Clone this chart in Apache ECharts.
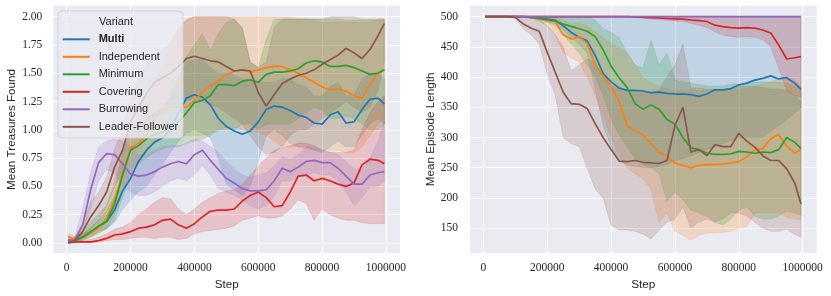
<!DOCTYPE html>
<html><head><meta charset="utf-8">
<script src="https://cdn.jsdelivr.net/npm/echarts@6/dist/echarts.min.js"></script>
<style>html,body{margin:0;padding:0;background:#fff}#c{width:831px;height:296px}</style>
</head><body><div id="c"></div>
<script>
// ---------- data ----------
const steps = [5000,25000,50000,75000,100000,125000,150000,175000,200000,225000,250000,275000,300000,325000,350000,375000,400000,425000,450000,475000,500000,525000,550000,575000,600000,625000,650000,675000,700000,725000,750000,775000,800000,825000,850000,875000,900000,925000,950000,975000,995000];
const variants = ['Multi','Independent','Minimum','Covering','Burrowing','Leader-Follower'];
const xTickValues = [0,200000,400000,600000,800000,1000000];
const treasureTickValues = [0,0.25,0.5,0.75,1.0,1.25,1.5,1.75,2.0];
const lengthTickValues = [150,200,250,300,350,400,450,500];

// Mean Treasures Found
const tMultiMean = [0.01,0.02,0.05,0.09,0.14,0.19,0.29,0.46,0.57,0.72,0.82,0.89,0.93,1.00,1.15,1.28,1.31,1.29,1.22,1.10,1.03,0.99,0.96,0.99,1.07,1.18,1.21,1.20,1.17,1.13,1.11,1.06,1.05,1.13,1.16,1.06,1.07,1.18,1.27,1.28,1.23];
const tMultiLo = [0.0,0.0,0.03,0.06,0.10,0.13,0.18,0.30,0.38,0.45,0.50,0.60,0.70,0.80,0.90,0.97,1.00,0.97,0.93,0.75,0.52,0.47,0.42,0.50,0.72,0.95,1.00,0.95,0.88,0.85,0.85,0.82,0.80,0.85,0.90,0.85,0.85,0.95,1.05,1.10,1.05];
const tMultiHi = [0.03,0.04,0.08,0.13,0.20,0.28,0.42,0.60,0.76,0.95,1.10,1.15,1.20,1.30,1.45,1.60,1.62,1.62,1.55,1.50,1.50,1.48,1.45,1.45,1.42,1.42,1.42,1.45,1.45,1.40,1.38,1.30,1.30,1.38,1.42,1.30,1.30,1.45,1.50,1.50,1.45];
const tIndepMean = [0.06,0.03,0.05,0.09,0.13,0.22,0.38,0.62,0.84,0.88,0.96,1.10,1.18,1.20,1.20,1.20,1.26,1.33,1.39,1.43,1.48,1.52,1.53,1.51,1.53,1.55,1.56,1.56,1.53,1.50,1.46,1.42,1.38,1.35,1.36,1.34,1.30,1.28,1.40,1.50,1.53];
const tIndepLo = [0.02,0.01,0.02,0.05,0.08,0.13,0.25,0.45,0.65,0.72,0.80,0.88,0.92,0.95,0.95,0.95,0.95,0.95,0.97,1.00,1.00,1.02,1.00,0.98,0.98,0.95,0.90,0.85,0.85,0.85,0.83,0.82,0.82,0.82,0.82,0.80,0.80,0.85,0.95,1.05,1.10];
const tIndepHi = [0.09,0.06,0.08,0.14,0.20,0.33,0.55,0.80,1.00,1.10,1.25,1.40,1.55,1.75,1.90,1.98,2.00,2.00,2.00,2.00,2.00,2.00,2.00,2.00,2.00,2.00,2.00,2.00,2.00,1.98,1.98,1.97,1.95,1.95,1.95,1.95,1.95,1.95,1.95,1.98,1.98];
const tMinMean = [0.01,0.02,0.05,0.10,0.15,0.19,0.34,0.60,0.82,0.86,0.92,0.96,0.98,1.02,1.07,1.15,1.24,1.26,1.30,1.40,1.40,1.39,1.43,1.44,1.42,1.49,1.51,1.51,1.52,1.54,1.59,1.61,1.60,1.56,1.56,1.57,1.55,1.52,1.49,1.50,1.53];
const tMinLo = [0.00,0.00,0.02,0.05,0.09,0.12,0.20,0.40,0.60,0.70,0.75,0.80,0.83,0.85,0.85,0.88,0.90,0.92,0.95,1.00,1.02,1.00,1.05,1.05,1.00,1.05,1.05,1.05,1.05,1.10,1.15,1.20,1.18,1.10,1.10,1.12,1.10,1.05,1.00,1.00,1.05];
const tMinHi = [0.03,0.05,0.10,0.18,0.26,0.33,0.50,0.80,1.00,1.05,1.10,1.15,1.20,1.30,1.45,1.65,1.75,1.85,1.70,1.85,1.95,1.98,1.90,1.60,1.55,1.80,1.98,1.98,1.98,1.98,1.98,1.98,1.98,1.98,1.98,1.97,1.97,1.97,1.97,1.97,1.97];
const tCoverMean = [0.00,0.01,0.01,0.01,0.02,0.04,0.07,0.08,0.10,0.13,0.14,0.16,0.20,0.21,0.16,0.13,0.17,0.23,0.28,0.29,0.29,0.30,0.37,0.42,0.45,0.40,0.32,0.33,0.45,0.59,0.60,0.55,0.57,0.55,0.52,0.50,0.53,0.69,0.74,0.73,0.70];
const tCoverLo = [0.00,0.00,0.00,0.00,0.01,0.02,0.03,0.03,0.04,0.05,0.05,0.04,0.05,0.05,0.03,0.04,0.08,0.10,0.11,0.12,0.13,0.15,0.20,0.22,0.24,0.22,0.22,0.24,0.30,0.38,0.35,0.20,0.30,0.25,0.22,0.20,0.20,0.18,0.17,0.17,0.17];
const tCoverHi = [0.01,0.02,0.02,0.03,0.05,0.08,0.12,0.14,0.18,0.25,0.30,0.36,0.40,0.39,0.30,0.25,0.30,0.36,0.40,0.44,0.46,0.47,0.52,0.60,0.68,0.75,0.82,0.84,0.86,0.88,0.88,0.86,0.82,0.80,0.80,0.80,0.82,1.00,1.15,1.25,1.30];
const tBurrowMean = [0.03,0.02,0.16,0.47,0.71,0.79,0.78,0.70,0.61,0.59,0.60,0.63,0.67,0.70,0.72,0.70,0.78,0.82,0.73,0.65,0.57,0.53,0.48,0.46,0.46,0.47,0.55,0.66,0.63,0.67,0.72,0.73,0.71,0.71,0.66,0.59,0.52,0.52,0.60,0.62,0.63];
const tBurrowLo = [0.01,0.00,0.08,0.30,0.55,0.65,0.62,0.50,0.45,0.42,0.42,0.45,0.50,0.55,0.57,0.55,0.60,0.68,0.60,0.48,0.45,0.42,0.38,0.33,0.30,0.33,0.42,0.55,0.55,0.58,0.60,0.62,0.60,0.60,0.55,0.45,0.33,0.40,0.50,0.50,0.55];
const tBurrowHi = [0.06,0.05,0.30,0.62,0.85,0.90,0.92,0.90,0.85,0.78,0.78,0.82,0.85,0.86,0.86,0.88,0.92,0.90,0.85,0.80,0.72,0.65,0.60,0.58,0.60,0.62,0.68,0.76,0.74,0.78,0.85,0.85,0.82,0.80,0.78,0.72,0.65,0.65,0.75,0.90,1.08];
const tLeaderMean = [0.00,0.02,0.10,0.23,0.33,0.45,0.67,0.82,1.07,1.20,1.32,1.42,1.46,1.50,1.56,1.63,1.65,1.63,1.61,1.60,1.56,1.52,1.53,1.52,1.33,1.21,1.31,1.41,1.45,1.48,1.50,1.53,1.58,1.62,1.66,1.72,1.68,1.63,1.71,1.83,1.94];
const tLeaderLo = [0.00,0.00,0.05,0.12,0.20,0.33,0.50,0.62,0.80,0.95,1.05,1.12,1.15,1.20,1.22,1.25,1.28,1.25,1.22,1.20,1.15,1.10,1.05,0.95,0.85,0.78,0.80,0.85,0.95,1.00,1.00,1.05,1.10,1.15,1.20,1.25,1.20,1.15,1.20,1.35,1.60];
const tLeaderHi = [0.02,0.05,0.17,0.36,0.45,0.58,0.83,1.00,1.28,1.45,1.58,1.65,1.70,1.78,1.88,1.97,2.00,2.00,2.00,2.00,2.00,1.98,1.90,1.60,1.55,1.60,1.90,1.98,1.98,1.98,1.98,1.98,1.98,2.00,2.00,2.00,2.00,1.98,1.98,1.98,1.98];

// Mean Episode Length
const lMultiMean = [500,500,500,500,500,499.5,499,498,496,494,485,474,466,460,436,406,392,382,378,378,377,374,375,373,372,372,371,368,372,379,379,381,387,390,395,398,402,397,399,390,380];
const lMultiLo = [500,500,500,500,500,499,497,495,492,488,478,465,455,440,380,320,285,262,255,252,250,250,252,255,262,265,270,275,280,285,290,295,300,300,300,300,310,320,330,340,350];
const lMultiHi = [500,500,500,500,500,500,500,500,500,500,500,500,500,500,500,500,500,500,500,500,500,500,500,500,500,500,500,500,500,500,500,500,500,500,500,500,500,500,500,500,500];
const lIndepMean = [500,500,500,500,500,500,499,497,494,492,470,463,467,456,421,402,385,360,320,312,304,290,276,269,258,254,250,254,255,255,256,258,260,268,280,282,298,305,286,274,280];
const lIndepLo = [500,500,500,500,500,500,499,492,485,470,440,432,425,400,370,335,300,270,250,240,232,215,160,175,145,138,130,138,142,142,143,145,150,152,175,175,175,175,168,165,164];
const lIndepHi = [500,500,500,500,500,500,500,500,500,500,495,488,490,485,475,465,455,450,440,420,400,390,385,380,378,378,378,378,378,378,378,380,380,382,385,388,392,398,400,395,385];
const lMinMean = [500,500,500,500,500,500,499,497,495,493,488,484,480,476,467,445,418,399,383,356,347,354,347,330,322,300,283,280,274,272,272,273,277,276,274,276,275,280,300,292,282];
const lMinLo = [500,500,500,500,500,500,500,495,490,485,470,455,440,420,400,370,330,305,285,265,255,250,240,195,210,197,180,175,170,160,155,165,180,185,170,165,165,170,178,175,172];
const lMinHi = [500,500,500,500,500,500,500,500,500,500,500,500,500,500,495,480,474,465,440,420,415,462,420,440,395,392,390,388,385,385,385,388,388,390,392,392,392,392,390,385,380];
const lCoverMean = [500,500,500,500,500,500,500,500,500,500,500,500,500,500,500,500,500,500,500,499.5,499,498.5,498,497,496.5,496,494.5,493.5,492,486,483.5,482,481,482,481,478,473,453,430,432,434];
const lCoverLo = [500,500,500,500,500,500,500,500,500,500,500,500,500,500,500,500,500,500,500,499,498,496,495,494,493,492,489,486,482,475,470,467,466,467,466,462,450,415,378,370,366];
const lCoverHi = [500,500,500,500,500,500,500,500,500,500,500,500,500,500,500,500,500,500,500,500,500,500,500,500,500,500,500,500,500,500,500,500,500,500,500,500,500,500,500,500,500];
const lBurrowMean = [500,500,500,500,500,500,500,500,500,500,500,500,500,500,500,500,500,500,500,500,500,500,500,500,500,500,500,500,500,500,500,500,500,500,500,500,500,500,500,500,500];
const lBurrowLo = lBurrowMean;
const lBurrowHi = lBurrowMean;
const lLeaderMean = [500,500,500,500,499,488,481,476,441,408,375,356,355,348,323,300,280,261,260,262,259,258,257,262,320,350,276,280,270,288,285,285,307,294,284,270,262,262,248,225,190];
const lLeaderLo = [500,500,500,500,497,480,470,455,405,370,300,290,285,250,215,200,155,147,147,145,140,132,147,160,165,185,150,160,165,160,165,175,175,170,160,150,145,145,148,140,135];
const lLeaderHi = [500,500,500,500,500,500,500,495,485,470,450,410,420,430,425,400,385,380,378,378,376,376,378,400,420,455,382,382,380,380,380,380,385,385,385,383,380,380,378,370,360];

// ---------- styling ----------
const colors = ['#1f77b4','#ff7f0e','#2ca02c','#d62728','#9467bd','#8c564b'];
const textColor = '#262626';
const serif = 'Liberation Serif';
const sans = 'Liberation Sans';

function rgba(hex, a) {
  const n = parseInt(hex.slice(1), 16);
  return 'rgba(' + ((n >> 16) & 255) + ',' + ((n >> 8) & 255) + ',' + (n & 255) + ',' + a + ')';
}

const panels = [
  { mean: [tMultiMean,tIndepMean,tMinMean,tCoverMean,tBurrowMean,tLeaderMean],
    lo:   [tMultiLo,tIndepLo,tMinLo,tCoverLo,tBurrowLo,tLeaderLo],
    hi:   [tMultiHi,tIndepHi,tMinHi,tCoverHi,tBurrowHi,tLeaderHi] },
  { mean: [lMultiMean,lIndepMean,lMinMean,lCoverMean,lBurrowMean,lLeaderMean],
    lo:   [lMultiLo,lIndepLo,lMinLo,lCoverLo,lBurrowLo,lLeaderLo],
    hi:   [lMultiHi,lIndepHi,lMinHi,lCoverHi,lBurrowHi,lLeaderHi] }
];

function bandRenderer(lo, hi, color) {
  return function (params, api) {
    if (params.dataIndex !== 0) return null;
    const pts = [];
    for (let i = 0; i < steps.length; i++) pts.push(api.coord([steps[i], lo[i]]));
    for (let i = steps.length - 1; i >= 0; i--) pts.push(api.coord([steps[i], hi[i]]));
    return {
      type: 'polygon', shape: { points: pts },
      style: { fill: rgba(color, 0.2), stroke: rgba(color, 0.22), lineWidth: 0.7 }
    };
  };
}

const series = [];
panels.forEach((p, g) => {
  variants.forEach((name, k) => {
    const c = colors[k];
    series.push({
      type: 'custom', name: name + ' band ' + g, coordinateSystem: 'cartesian2d',
      xAxisIndex: g, yAxisIndex: g, silent: true, animation: false,
      renderItem: bandRenderer(p.lo[k], p.hi[k], c),
      encode: { x: 0, y: [1, 2] },
      data: steps.map((s, i) => [s, p.lo[k][i], p.hi[k][i]])
    });
    series.push({
      type: 'line', name: name, xAxisIndex: g, yAxisIndex: g,
      symbol: 'none', silent: true, animation: false,
      lineStyle: { width: 1.7, color: c }, itemStyle: { color: c },
      data: steps.map((s, i) => [s, p.mean[k][i]])
    });
  });
});

function xAxisCfg(g) {
  return {
    type: 'value', gridIndex: g, min: -42000, max: 1044000,
    axisLine: { show: false },
    axisTick: { show: false, customValues: xTickValues },
    axisLabel: { customValues: xTickValues, fontFamily: serif, fontSize: 11.5, color: textColor, margin: 9,
                 formatter: v => String(v) },
    splitLine: { show: true, lineStyle: { color: '#ffffff', width: 1.1 } },
    name: 'Step', nameLocation: 'middle', nameGap: 23,
    nameTextStyle: { fontFamily: sans, fontSize: 11.7, color: textColor }
  };
}

const option = {
  backgroundColor: '#ffffff',
  animation: false,
  grid: [
    { left: 53.3, top: 5.7, width: 346.7, height: 247.6, show: true, backgroundColor: '#EAEAF2', borderWidth: 0 },
    { left: 470, top: 5.7, width: 346.7, height: 247.6, show: true, backgroundColor: '#EAEAF2', borderWidth: 0 }
  ],
  xAxis: [xAxisCfg(0), xAxisCfg(1)],
  yAxis: [
    { type: 'value', gridIndex: 0, min: -0.09, max: 2.097,
      axisLine: { show: false },
      axisTick: { show: false, customValues: treasureTickValues },
      axisLabel: { customValues: treasureTickValues, fontFamily: serif, fontSize: 11.5, color: textColor, margin: 11,
                   formatter: v => v.toFixed(2) },
      splitLine: { show: true, lineStyle: { color: '#ffffff', width: 1.1 } },
      name: 'Mean Treasures Found', nameLocation: 'middle', nameGap: 36,
      nameTextStyle: { fontFamily: sans, fontSize: 11.7, color: textColor } },
    { type: 'value', gridIndex: 1, min: 108.7, max: 518.2,
      axisLine: { show: false },
      axisTick: { show: false, customValues: lengthTickValues },
      axisLabel: { customValues: lengthTickValues, fontFamily: serif, fontSize: 11.5, color: textColor, margin: 12,
                   formatter: v => String(v) },
      splitLine: { show: true, lineStyle: { color: '#ffffff', width: 1.1 } },
      name: 'Mean Episode Length', nameLocation: 'middle', nameGap: 32,
      nameTextStyle: { fontFamily: sans, fontSize: 11.7, color: textColor } }
  ],
  graphic: [
    { type: 'rect', z: 100, shape: { x: 58, y: 11, width: 125, height: 127, r: 4 },
      style: { fill: 'rgba(234,234,242,0.8)', stroke: 'rgba(210,210,216,0.9)', lineWidth: 1 } },
    { type: 'text', z: 101, x: 99, y: 22,
      style: { text: 'Variant', fontFamily: sans, fontSize: 11, fill: textColor, textVerticalAlign: 'middle' } }
  ],
  legend: {
    z: 110, orient: 'vertical', left: 62.7, top: 32.3, padding: 0,
    itemWidth: 27, itemHeight: 2, itemGap: 3.5, icon: 'rect',
    data: variants, selectedMode: false,
    formatter: name => name === 'Multi' ? '{b|' + name + '}' : name,
    textStyle: { fontFamily: sans, fontSize: 11, color: textColor, lineHeight: 14, padding: [0, 0, 0, 4],
      rich: { b: { fontFamily: sans, fontSize: 11, fontWeight: 'bold', color: textColor, lineHeight: 14 } } }
  },
  series: series
};

const chart = echarts.init(document.getElementById('c'), null, { renderer: 'canvas' });
chart.setOption(option);
</script>
</body></html>
